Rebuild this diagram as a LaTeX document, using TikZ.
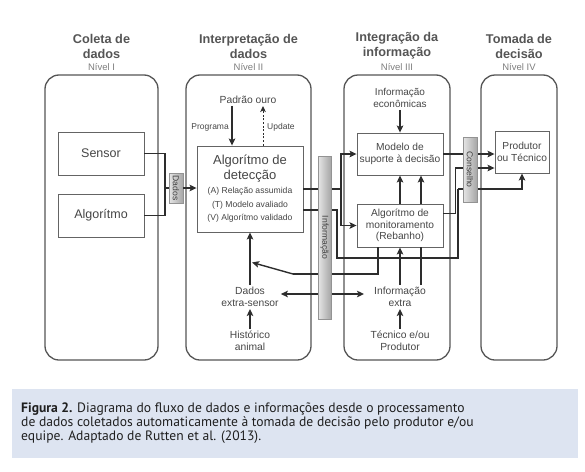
\documentclass[tikz,border=0pt]{standalone}
\usepackage{fontspec}
\setmainfont{Liberation Sans}
\newfontfamily\capfont{PT Sans}
\usetikzlibrary{arrows.meta,positioning,calc}

\definecolor{linegray}{RGB}{45,45,45}
\definecolor{boxgray}{RGB}{100,100,100}
\definecolor{panelgray}{RGB}{85,85,85}
\definecolor{txtgray}{RGB}{70,70,70}
\definecolor{titlegray}{RGB}{85,85,85}
\definecolor{levelgray}{RGB}{125,125,125}
\definecolor{capblue}{RGB}{221,228,241}
\newcommand{\detsub}{\fontsize{8.6}{10}\selectfont}

\begin{document}
\begin{tikzpicture}[
    x=1pt, y=-1pt,
    panel/.style={rectangle, draw=panelgray, line width=1.3pt, rounded corners=14pt},
    title/.style={text=titlegray, align=center, inner sep=0pt, font=\fontsize{12.7}{15}\selectfont\bfseries},
    level/.style={text=levelgray, inner sep=0pt, font=\fontsize{9.5}{11}\selectfont},
    box/.style={rectangle, draw=boxgray, line width=0.9pt, fill=white, text=txtgray, align=center, inner sep=1pt},
    txt/.style={text=txtgray, align=center, inner sep=2pt, font=\fontsize{10.3}{12}\selectfont},
    small/.style={text=txtgray, inner sep=1pt, font=\fontsize{8.5}{10}\selectfont},
    bar/.style={rectangle, draw=gray!85, line width=0.6pt, left color=gray!20, right color=gray!70, inner sep=0pt, text=black!75, font=\fontsize{8.6}{10}\selectfont},
    line/.style={draw=linegray, line width=1.4pt},
    arrow/.style={line, -{Stealth[length=7pt,width=6.5pt,inset=1.5pt]}}
]
\useasboundingbox (0,0) rectangle (585,471);

% Columns
\node[panel, minimum width=113pt, minimum height=285pt] (colI) at (101.5,217.5) {};
\node[panel, minimum width=125pt, minimum height=285pt] (colII) at (248.5,217.5) {};
\node[panel, minimum width=106pt, minimum height=285pt] (colIII) at (397,217.5) {};
\node[panel, minimum width=76pt, minimum height=285pt] (colIV) at (519,217.5) {};

% Column titles
\node[level, above=4pt of colI] (nivI) {Nível I};
\node[title, above=4pt of nivI] {Coleta de\\dados};
\node[level, above=4pt of colII] (nivII) {Nível II};
\node[title, above=4pt of nivII] {Interpretação de\\dados};
\node[level, above=4pt of colIII] (nivIII) {Nível III};
\node[title, above=4pt of nivIII] {Integração da\\informação};
\node[level, above=4pt of colIV] (nivIV) {Nível IV};
\node[title, above=4pt of nivIV] {Tomada de\\decisão};

% Level I
\node[box, minimum width=86pt, minimum height=43pt, font=\fontsize{12.5}{14}\selectfont] (sensor) at (101,153.5) {Sensor};
\node[box, minimum width=86pt, minimum height=43pt, font=\fontsize{12.5}{14}\selectfont] (algo) at (101,215.5) {Algorítmo};
\node[bar, minimum width=14pt, minimum height=30pt] (dados) at (176,188) {\rotatebox{-90}{Dados}};

% Level II
\node[txt] (padrao) at (248,100) {Padrão ouro};
\node[box, minimum width=106pt, minimum height=86pt, font=\fontsize{13}{15}\selectfont] (detec) at (250,189)
    {Algorítmo de\\detecção\\[-1pt]
     \detsub (A) Relação assumida\\[-1.5pt] \detsub (T) Modelo avaliado\\[-1.5pt] \detsub (V) Algorítmo validado};
\node[txt] (dexs) at (250,297) {Dados\\extra-sensor};
\node[txt] (hist) at (250,341) {Histórico\\animal};
\node[small, anchor=east] (prog) at (230,127) {Programa};
\node[small, anchor=west] (upd) at (266,127) {Update};

% Level III
\node[txt, font=\fontsize{10}{12}\selectfont] (ieco) at (400,98) {Informação\\econômicas};
\node[box, minimum width=86pt, minimum height=42pt, font=\fontsize{10.2}{12}\selectfont] (modelo) at (400,154) {Modelo de\\suporte à decisão};
\node[box, minimum width=86pt, minimum height=43pt, font=\fontsize{10.2}{11.5}\selectfont] (monit) at (400,225.5) {Algorítmo de\\monitoramento\\(Rebanho)};
\node[txt] (iext) at (400,297) {Informação\\extra};
\node[txt] (tecn) at (400,341) {Técnico e/ou\\Produtor};

% Level IV
\node[box, minimum width=54pt, minimum height=42pt, font=\fontsize{10.2}{12}\selectfont] (produtor) at (522,152) {Produtor\\ou Técnico};

% Junctions
\coordinate (jS) at (165,188);
\coordinate (jA) at (341,189);
\coordinate (jB) at (337,258);
\coordinate (jC) at (458,189);
\coordinate (jD) at (293,274);

% Data from level I
\draw[line] (sensor.east) -| (jS);
\draw[line] (algo.east) -| (jS);
\draw[line] (jS) -- (dados.west);
\draw[arrow] (dados.east) -- (dados.east -| detec.west);

% Level II arrows
\draw[arrow] ([xshift=-16pt]padrao.south) -- ([xshift=-18pt]detec.north);
\draw[line, line width=1pt, dash pattern=on 2pt off 1.6pt, -{Stealth[length=6pt,width=5.5pt,inset=1.5pt]}] ([xshift=13pt]detec.north) -- ([xshift=15pt]padrao.south);
\draw[arrow] (hist) -- (dexs);
\draw[arrow] (dexs) -- (detec);
\draw[arrow, {Stealth[length=7pt,width=6.5pt,inset=1.5pt]}-{Stealth[length=7pt,width=6.5pt,inset=1.5pt]}] ([yshift=3pt]dexs.east) -- ([xshift=-8pt, yshift=3pt]iext.west);

% Detection to level III
\draw[line] (detec.east) -- (jA);
\draw[arrow] (jA) |- (modelo.west);
\draw[arrow] (jA) |- (monit.west);
\draw[line] ([yshift=-21pt]detec.east) -| (jB) -| (jC);
\draw[arrow] (jC) -| (produtor.south);

% Feedback from monitoring
\draw[line] ([xshift=-22pt]monit.south) |- (jD);
\draw[arrow] (jD) -- ($(detec.south)+(2,30)$);

% Level III arrows
\draw[arrow] (ieco) -- (modelo);
\draw[arrow] (tecn) -- (iext);
\draw[arrow] (iext) -- (monit);
\draw[line] ([xshift=21pt]iext.north) -- ([xshift=21pt]monit.south);
\draw[arrow] (monit.north) -- (modelo.south);
\draw[arrow] ([xshift=21pt]monit.north) -- ([xshift=21pt]modelo.south);

% Advice to level IV
\draw[arrow] (modelo.east) -- (modelo.east -| produtor.west);
\draw[arrow] ([yshift=12pt]monit.east) -- ++(12,0) |- ([yshift=-16pt]produtor.west);

% Bars over the lines
\node[bar, minimum width=13pt, minimum height=163pt] (info) at (324.5,237.5) {\rotatebox{-90}{Informação}};
\node[bar, minimum width=14pt, minimum height=65pt] (cons) at (470,169.5) {\rotatebox{-90}{Conselho}};

% Caption
\fill[capblue] (12,389) rectangle (578,458);
\node[anchor=north west, align=left, inner sep=0pt, text=black!88, font=\capfont\fontsize{13.6}{14}\selectfont] (caption) at (21,402.5)
    {\textbf{Figura 2.} Diagrama do fluxo de dados e informações desde o processamento\\
     de dados coletados automaticamente à tomada de decisão pelo produtor e/ou\\
     equipe. Adaptado de Rutten et al. (2013).};

\end{tikzpicture}
\end{document}
